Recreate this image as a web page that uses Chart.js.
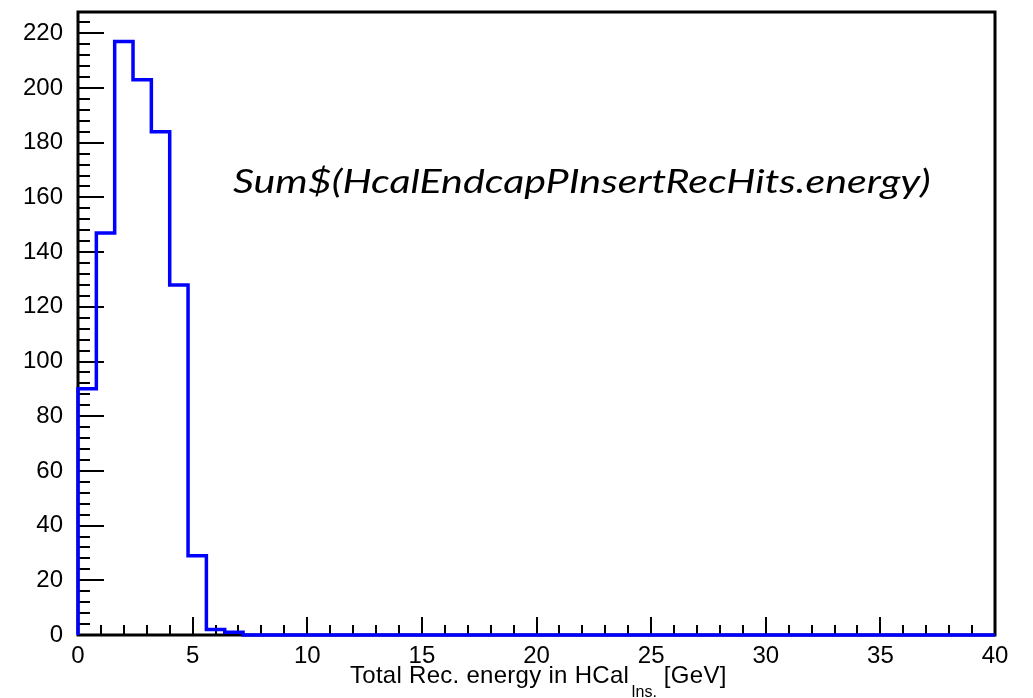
<!DOCTYPE html>
<html>
<head>
<meta charset="utf-8">
<script src="https://cdn.jsdelivr.net/npm/chart.js@4"></script>
<style>
    body { margin: 0; background: #fff; }
    #wrap { position: relative; width: 1033px; height: 698px; }
    #xtitle {
        position: absolute; left: 350px; top: 663px;
        font: 24px "Liberation Sans", Arial, sans-serif; line-height: 24px;
        letter-spacing: 0.28px;
        color: #000; white-space: nowrap;
    }
    #xtitle sub { font-size: 16px; letter-spacing: 0; position: relative; top: 14px; vertical-align: baseline; margin: 0 0 0 2px; }
    #note {
        position: absolute; left: 233px; top: 164px;
        font: italic 33px Lato, "Open Sans", sans-serif; line-height: 33px;
        color: #000; white-space: nowrap; transform-origin: 0 0;
    }
</style>
</head>
<body>
<div id="wrap">
    <canvas id="myChart" width="1033" height="698"></canvas>
    <div id="xtitle">Total Rec. energy in HCal<sub>Ins.</sub> [GeV]</div>
    <div id="note">Sum$(HcalEndcapPInsertRecHits.energy)</div>
</div>
<script>
// histogram: 50 bins from 0 to 40 GeV
const binWidth = 0.8;
const xMin = 0;
const xMax = 40;
const counts = [90, 147, 217, 203, 184, 128, 29, 2, 1, 0,
                0, 0, 0, 0, 0, 0, 0, 0, 0, 0,
                0, 0, 0, 0, 0, 0, 0, 0, 0, 0,
                0, 0, 0, 0, 0, 0, 0, 0, 0, 0,
                0, 0, 0, 0, 0, 0, 0, 0, 0, 0];
const yMax = 227.8;

// fit the annotation to its width in the picture
const note = document.getElementById('note');
note.style.transform = 'scaleX(' + (697 / note.offsetWidth) + ')';

addChart();

function addChart()
{
    // step points: left edge of each bin, plus closing edge
    const points = [{ x: xMin, y: 0 }];
    counts.forEach((c, i) =>
    {
        points.push({ x: xMin + i * binWidth, y: c });
    });
    points.push({ x: xMax, y: counts[counts.length - 1] });

    // ROOT style frame (under the histogram) with inward ticks
    const frameTicks = {
        id: 'frameTicks',
        beforeDatasetsDraw(chart)
        {
            const ctx = chart.ctx;
            const a = chart.chartArea;
            const xs = chart.scales.x;
            const ys = chart.scales.y;
            ctx.save();
            ctx.strokeStyle = '#000';
            ctx.lineWidth = 2;
            ctx.beginPath();
            for (let v = 0; v <= yMax; v += 4)
            {
                const py = Math.round(ys.getPixelForValue(v));
                const len = v % 20 === 0 ? 26 : 12;
                ctx.moveTo(a.left, py);
                ctx.lineTo(a.left + len, py);
            }
            for (let v = xMin; v <= xMax; v += 1)
            {
                const px = Math.round(xs.getPixelForValue(v));
                const len = v % 5 === 0 ? 18 : 10;
                ctx.moveTo(px, a.bottom);
                ctx.lineTo(px, a.bottom - len);
            }
            ctx.stroke();
            ctx.lineWidth = 3;
            ctx.strokeRect(a.left, a.top, a.right - a.left, a.bottom - a.top);
            ctx.restore();
        }
    };

    const ctx = document.getElementById('myChart').getContext('2d');
    const myChart = new Chart(ctx, {
        type: 'line',
        data: {
            datasets: [{
                data: points,
                stepped: 'before',
                borderColor: 'rgb(0, 0, 255)',
                borderWidth: 3.5,
                pointRadius: 0,
                fill: false,
                borderJoinStyle: 'miter',
                clip: 4
            }]
        },
        options: {
            responsive: false,
            animation: false,
            devicePixelRatio: 1,
            layout: { autoPadding: false, padding: { top: 12, right: 38, left: 0, bottom: 0 } },
            plugins: {
                legend: { display: false },
                tooltip: { enabled: false }
            },
            scales: {
                x: {
                    type: 'linear',
                    min: xMin,
                    max: xMax,
                    afterFit: s => { s.height = 63; },
                    border: { display: false },
                    grid: { display: false, drawTicks: false },
                    ticks: {
                        stepSize: 5,
                        padding: 7,
                        maxRotation: 0,
                        color: '#000',
                        font: { family: '"Liberation Sans", Arial, sans-serif', size: 24 }
                    }
                },
                y: {
                    min: 0,
                    max: yMax,
                    afterFit: s =>
                    {
                        s.width = 78;
                        s.paddingTop = 0;
                        s.paddingBottom = 0;
                    },
                    border: { display: false },
                    grid: { display: false, drawTicks: false },
                    ticks: {
                        stepSize: 20,
                        includeBounds: false,
                        padding: 15,
                        color: '#000',
                        font: { family: '"Liberation Sans", Arial, sans-serif', size: 24 }
                    }
                }
            }
        },
        plugins: [frameTicks]
    });
}
</script>
</body>
</html>
